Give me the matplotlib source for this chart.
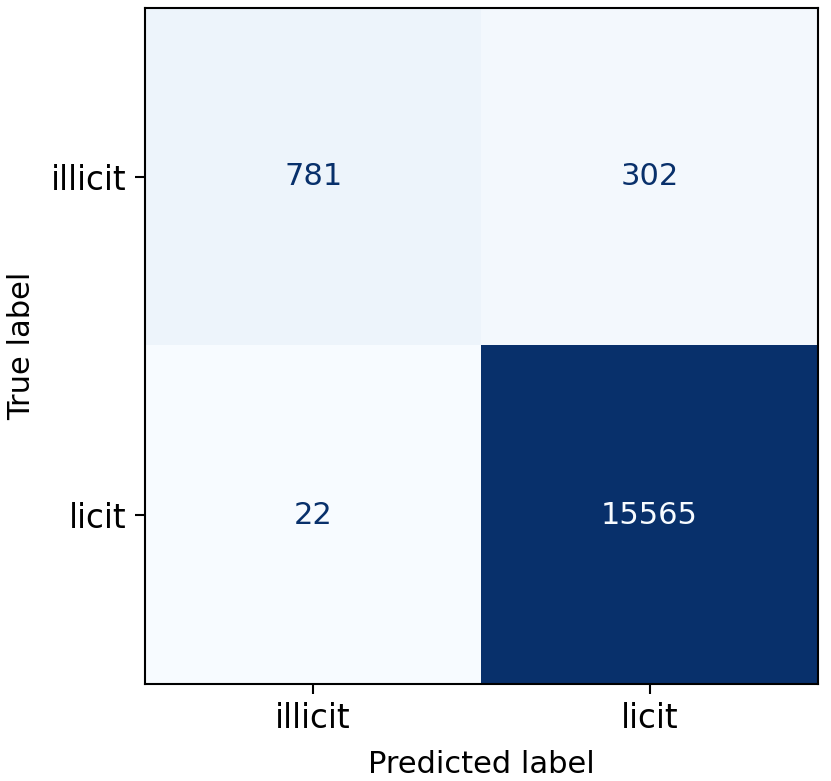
import matplotlib
matplotlib.use("Agg")
import matplotlib.pyplot as plt
import numpy as np

labels = ['illicit', 'licit']
cm = np.array([[781, 302],
               [22, 15565]])

fig = plt.figure(figsize=(8.31, 7.81), dpi=100)
ax = fig.add_axes([0.1745, 0.124, 0.8095, 0.866])

cmap = plt.get_cmap('Blues')
ax.imshow(cm, cmap=cmap, interpolation='nearest', aspect='auto')

thresh = (cm.max() + cm.min()) / 2.0
for i in range(cm.shape[0]):
    for j in range(cm.shape[1]):
        color = cmap(0.0) if cm[i, j] > thresh else cmap(1.0)
        ax.text(j, i, str(cm[i, j]), ha='center', va='center',
                color=color, fontsize=22)

ax.set_xticks(range(len(labels)))
ax.set_yticks(range(len(labels)))
ax.set_xticklabels(labels, fontsize=23.5)
ax.set_yticklabels(labels, fontsize=23.5)
ax.tick_params(length=7, width=1.5, pad=6)
for s in ax.spines.values():
    s.set_linewidth(1.5)
ax.set_xlabel('Predicted label', fontsize=22, labelpad=11)
ax.set_ylabel('True label', fontsize=22, labelpad=11)

fig.savefig('out.png', dpi=100)
